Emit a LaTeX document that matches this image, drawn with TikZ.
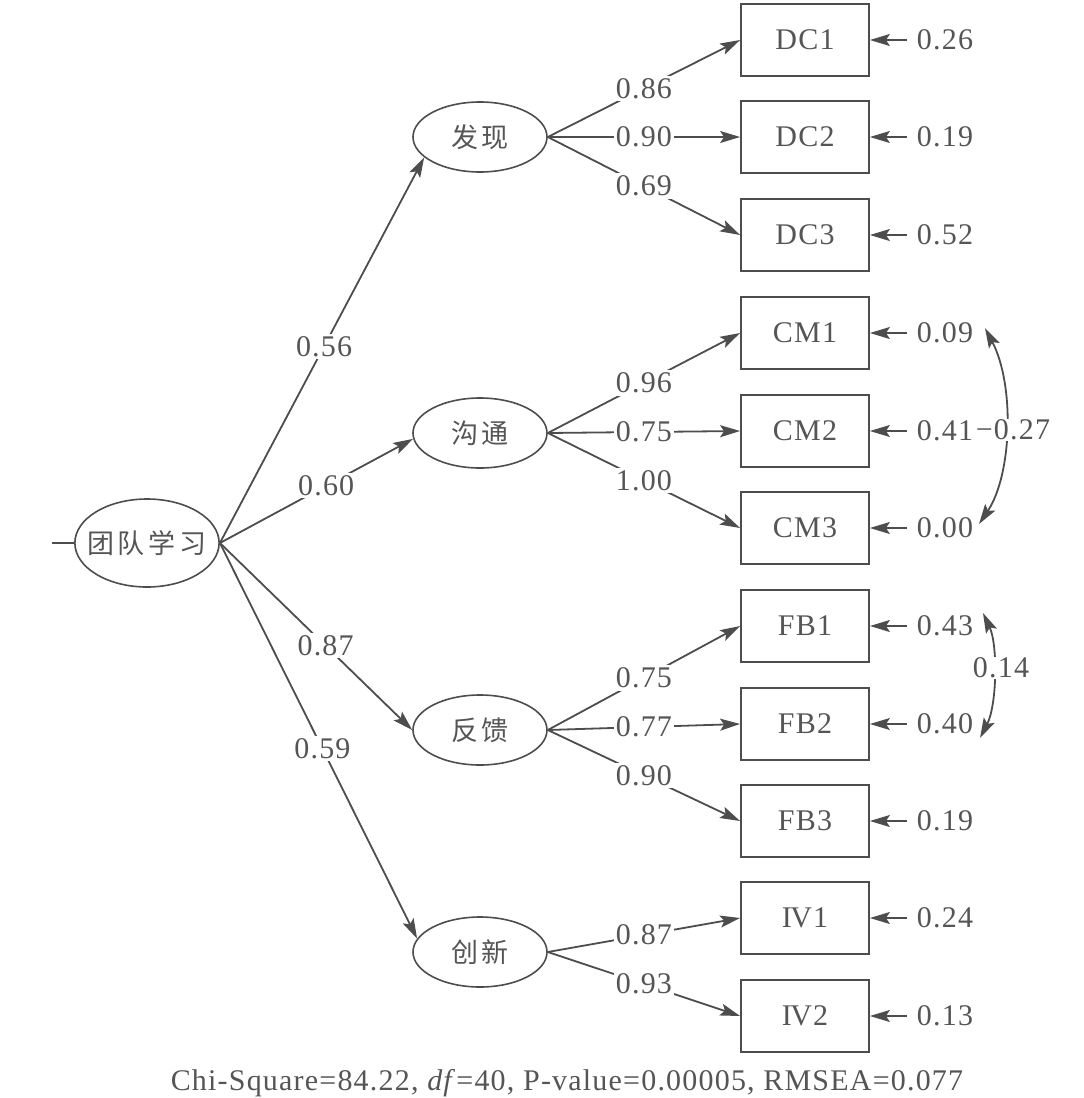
\documentclass[tikz,border=0pt]{standalone}
\usepackage{fontspec}
\setmainfont[LetterSpace=4]{Liberation Serif}
\newfontfamily\cjk{Noto Sans CJK SC}
\usetikzlibrary{arrows.meta,shapes.geometric,calc}
\definecolor{ln}{HTML}{4D4D4D}
\definecolor{tx}{HTML}{555555}
\begin{document}
\begin{tikzpicture}[x=0.5pt,y=-0.5pt,
  font=\fontsize{15}{18}\selectfont, text=tx,
  lat/.style={ellipse,draw=ln,line width=0.8pt,minimum width=67pt,minimum height=35pt,inner sep=0pt,font=\cjk\fontsize{13.5}{16}\selectfont},
  obs/.style={rectangle,draw=ln,line width=0.9pt,minimum width=64pt,minimum height=36pt,inner sep=0pt},
  err/.style={inner sep=5pt},
  arr/.style={draw=ln,line width=0.9pt,-{Stealth[length=10pt,width=6pt,inset=2pt]}},
  cov/.style={draw=ln,line width=0.9pt,{Stealth[length=10pt,width=6pt,inset=2pt]}-{Stealth[length=10pt,width=6pt,inset=2pt]}},
  lab/.style={fill=white,inner sep=1.2pt},
]
\useasboundingbox (0,0) rectangle (1083,1098);

% latent variables
\node[lat,minimum width=72pt,minimum height=44pt,inner xsep=-4.5pt] (T) at (147,543) {团\hspace{2pt}队\hspace{2pt}学\hspace{2pt}习};
\node[lat] (D) at (480,137) {发\hspace{1.5pt}现};
\node[lat] (C) at (480,433) {沟\hspace{1.5pt}通};
\node[lat] (F) at (480,730) {反\hspace{1.5pt}馈};
\node[lat] (I) at (480,952) {创\hspace{1.5pt}新};

\coordinate (s) at (52,543);
\draw[draw=ln,line width=0.9pt] (s) -- (T.west);

% observed variables with error terms
\foreach \n/\y/\t/\e in {DC1/40/DC1/0.26, DC2/137/DC2/0.19, DC3/235/DC3/0.52,
  CM1/333/CM1/0.09, CM2/431/CM2/0.41, CM3/528/CM3/0.00,
  FB1/626/FB1/0.43, FB2/724/FB2/0.40, FB3/821/FB3/0.19,
  IV1/918/{I\kern-0.8pt V1}/0.24, IV2/1016/{I\kern-0.8pt V2}/0.13}
{
  \node[obs] (\n) at (805,\y) {\t};
  \node[err] (e\n) at (945,\y) {\e};
  \draw[arr] (e\n) -- (\n);
}

% second-order loadings
\draw[arr] (T.east) -- node[lab,pos=0.51]{0.56} (D.200);
\draw[arr] (T.east) -- node[lab,pos=0.55]{0.60} (C.185);
\draw[arr] (T.east) -- node[lab,pos=0.55]{0.87} (F.west);
\draw[arr] (T.east) -- node[lab,pos=0.52]{0.59} (I.168);

% first-order loadings
\draw[arr] (D.east) -- node[lab]{0.86} (DC1.west);
\draw[arr] (D.east) -- node[lab]{0.90} (DC2.west);
\draw[arr] (D.east) -- node[lab]{0.69} (DC3.west);
\draw[arr] (C.east) -- node[lab]{0.96} (CM1.west);
\draw[arr] (C.east) -- node[lab]{0.75} (CM2.west);
\draw[arr] (C.east) -- node[lab]{1.00} (CM3.west);
\draw[arr] (F.east) -- node[lab]{0.75} (FB1.west);
\draw[arr] (F.east) -- node[lab]{0.77} (FB2.west);
\draw[arr] (F.east) -- node[lab]{0.90} (FB3.west);
\draw[arr] (I.east) -- node[lab]{0.87} (IV1.west);
\draw[arr] (I.east) -- node[lab]{0.93} (IV2.west);

% error covariances
\coordinate (a1) at (985,328);
\coordinate (a2) at (979,524);
\draw[cov] (a1) .. controls (1015,385) and (1012,475) .. (a2);
\node[lab,inner sep=0.5pt] (k1) at (1013,430) {−0.27};
\coordinate (b1) at (983,613);
\coordinate (b2) at (980,738);
\draw[cov] (b1) .. controls (998,645) and (997,705) .. (b2);
\node[lab,inner sep=0.5pt] (k2) at (1001,668) {0.14};

% caption
\node (cap) at (567,1083) {Chi-Square=84.22, \textit{df}=40, P-value=0.00005, RMSEA=0.077};
\end{tikzpicture}
\end{document}
